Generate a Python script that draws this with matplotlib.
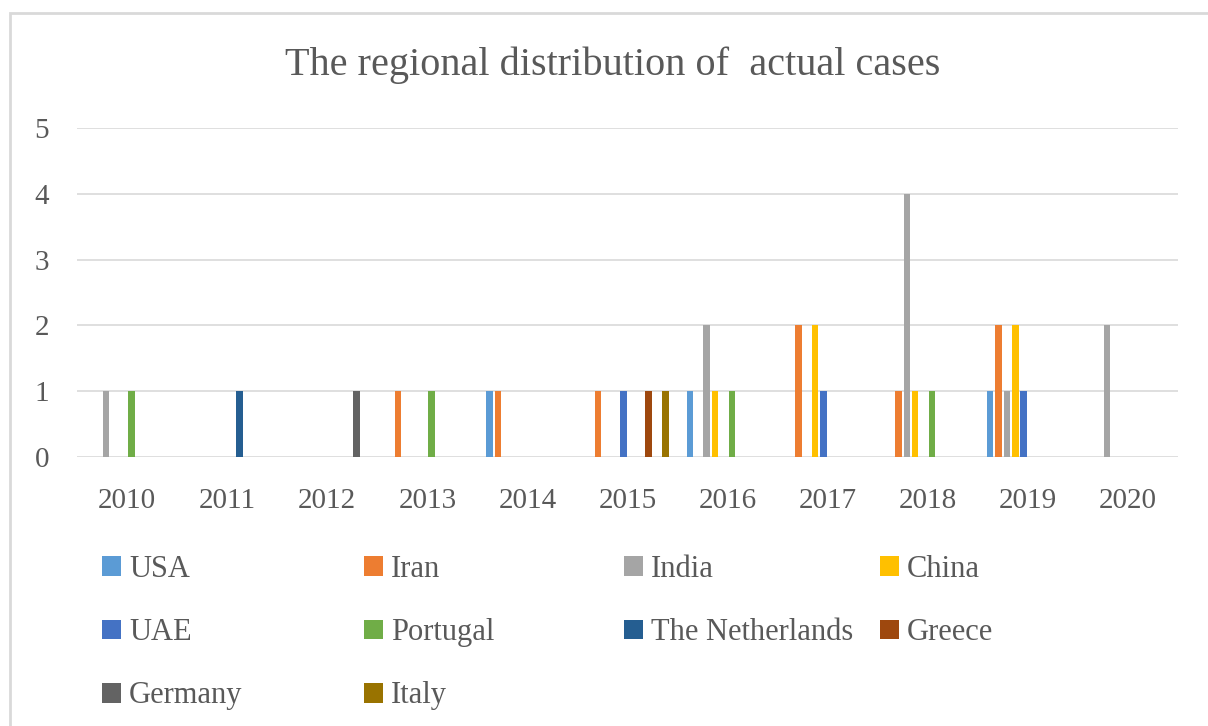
import numpy as np
import matplotlib.pyplot as plt
from matplotlib.patches import Rectangle

plt.rcParams['font.family'] = ['Liberation Serif', 'DejaVu Serif']

years = ['2010', '2011', '2012', '2013', '2014', '2015', '2016', '2017', '2018', '2019', '2020']
countries = ['USA', 'Iran', 'India', 'China', 'UAE', 'Portugal',
             'The Netherlands', 'Greece', 'Germany', 'Italy']
colors = ['#5B9BD5', '#ED7D31', '#A5A5A5', '#FFC000', '#4472C4', '#70AD47',
          '#255E91', '#9E480E', '#636363', '#997300']

# cases per year (2010..2020) for each country
usa         = [0, 0, 0, 0, 1, 0, 1, 0, 0, 1, 0]
iran        = [0, 0, 0, 1, 1, 1, 0, 2, 1, 2, 0]
india       = [1, 0, 0, 0, 0, 0, 2, 0, 4, 1, 2]
china       = [0, 0, 0, 0, 0, 0, 1, 2, 1, 2, 0]
uae         = [0, 0, 0, 0, 0, 1, 0, 1, 0, 1, 0]
portugal    = [1, 0, 0, 1, 0, 0, 1, 0, 1, 0, 0]
netherlands = [0, 1, 0, 0, 0, 0, 0, 0, 0, 0, 0]
greece      = [0, 0, 0, 0, 0, 1, 0, 0, 0, 0, 0]
germany     = [0, 0, 1, 0, 0, 0, 0, 0, 0, 0, 0]
italy       = [0, 0, 0, 0, 0, 1, 0, 0, 0, 0, 0]
series = [usa, iran, india, china, uae, portugal, netherlands, greece, germany, italy]

text_color = '#595959'
grid_color = '#D9D9D9'

fig = plt.figure(figsize=(12.08, 7.26), dpi=100)
ax = fig.add_axes([77 / 1208, 1 - 457 / 726, 1101 / 1208, 329 / 726])

x = np.arange(len(years))
slot = 0.084
width = 0.065
bars = []
for i, (vals, c) in enumerate(zip(series, colors)):
    b = ax.bar(x + (i - 4.5) * slot, vals, width, color=c, label=countries[i], zorder=3)
    bars.append(b)

ax.set_xlim(-0.5, len(years) - 0.5)
ax.set_ylim(0, 5)
ax.set_xticks(x)
ax.set_xticklabels(years)
ax.set_yticks(range(6))
for s in ax.spines.values():
    s.set_visible(False)
ax.yaxis.grid(True, color=grid_color, linewidth=1.2)
ax.tick_params(length=0, labelsize=21, colors=text_color)
ax.tick_params(axis='x', pad=22)
ax.tick_params(axis='y', pad=20)

fig.text(0.507, 1 - 65 / 726, 'The regional distribution of  actual cases',
         ha='center', va='center', fontsize=29, color=text_color)

# legend: four columns, filled row by row like the original
col_x = [102, 364, 624, 880]
for c in range(4):
    leg = fig.legend(handles=bars[c::4], labels=countries[c::4],
                     loc='upper left', bbox_to_anchor=(col_x[c] / 1208, 1 - 555 / 726),
                     frameon=False, fontsize=22, handlelength=0.62, handleheight=0.62,
                     handletextpad=0.26, labelspacing=1.12, borderpad=0, borderaxespad=0)
    for t in leg.get_texts():
        t.set_color(text_color)

fig.patches.append(Rectangle((10 / 1208, -0.1), 1.2, 1.1 - 13 / 726, transform=fig.transFigure,
                             fill=False, edgecolor=grid_color, linewidth=2))

fig.savefig('out.png', dpi=100)
